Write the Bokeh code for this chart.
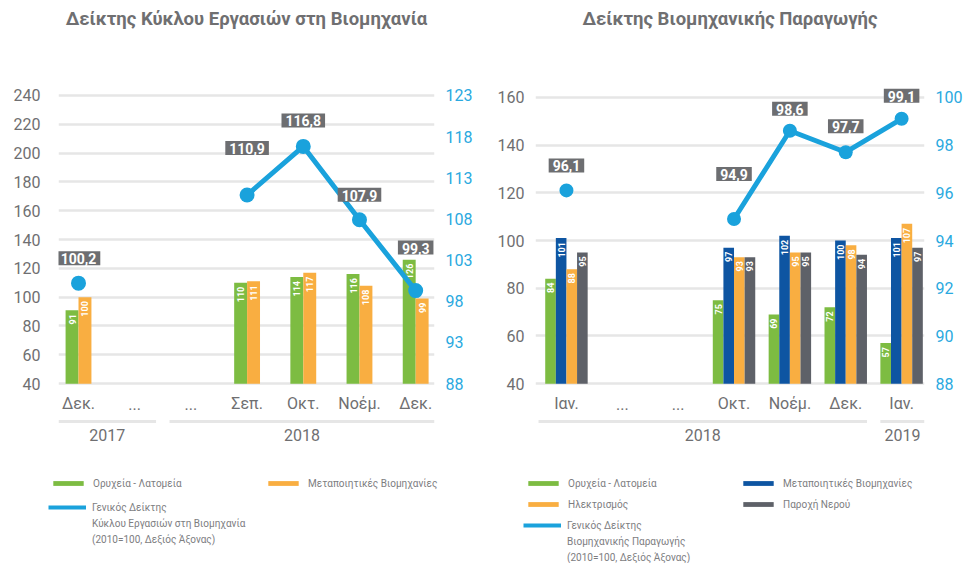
import math
from bokeh.plotting import figure
from bokeh.models import Range1d, LinearAxis, FixedTicker, ColumnDataSource, Legend, LegendItem
from bokeh.layouts import row, column
from bokeh.embed import file_html
from bokeh.resources import INLINE
from bokeh.core.properties import value

NaN = float("nan")

# ---------------- data: left chart ----------------
T1_TITLE = "Δείκτης Κύκλου Εργασιών στη Βιομηχανία"
T1_MONTHS = ["Δεκ.", "...", "...", "Σεπ.", "Οκτ.", "Νοέμ.", "Δεκ."]
T1_YEAR_OF = ["2017", "2017", "2018", "2018", "2018", "2018", "2018"]
T1_MINING = [91, NaN, NaN, 110, 114, 116, 126]
T1_MANUF = [100, NaN, NaN, 111, 117, 108, 99]
T1_INDEX = [100.2, NaN, NaN, 110.9, 116.8, 107.9, 99.3]
T1_LEFT_TICKS = [40, 60, 80, 100, 120, 140, 160, 180, 200, 220, 240]
T1_RIGHT_TICKS = [88, 93, 98, 103, 108, 113, 118, 123]
T1_NAMES = ["Ορυχεία - Λατομεία", "Μεταποιητικές Βιομηχανίες"]
T1_INDEX_NAME = ["Γενικός Δείκτης", "Κύκλου Εργασιών στη Βιομηχανία", "(2010=100, Δεξιός Άξονας)"]

# ---------------- data: right chart ----------------
T2_TITLE = "Δείκτης Βιομηχανικής Παραγωγής"
T2_MONTHS = ["Ιαν.", "...", "...", "Οκτ.", "Νοέμ.", "Δεκ.", "Ιαν."]
T2_YEAR_OF = ["2018", "2018", "2018", "2018", "2018", "2018", "2019"]
T2_MINING = [84, NaN, NaN, 75, 69, 72, 57]
T2_MANUF = [101, NaN, NaN, 97, 102, 100, 101]
T2_ELEC = [88, NaN, NaN, 93, 95, 98, 107]
T2_WATER = [95, NaN, NaN, 93, 95, 94, 97]
T2_INDEX = [96.1, NaN, NaN, 94.9, 98.6, 97.7, 99.1]
T2_LEFT_TICKS = [40, 60, 80, 100, 120, 140, 160]
T2_RIGHT_TICKS = [88, 90, 92, 94, 96, 98, 100]
T2_NAMES = ["Ορυχεία - Λατομεία", "Μεταποιητικές Βιομηχανίες", "Ηλεκτρισμός", "Παροχή Νερού"]
T2_INDEX_NAME = ["Γενικός Δείκτης", "Βιομηχανικής Παραγωγής", "(2010=100, Δεξιός Άξονας)"]

# ---------------- styles ----------------
GREEN = "#7dbc42"
ORANGE = "#f9ae41"
DBLUE = "#0e55a2"
GREY = "#5e6168"
LBLUE = "#1aa2dc"
TXT = "#6f6f71"
AXBLUE = "#2aa9e0"
BOX = "#6d6e71"
GRID = "#e6e6e6"
LEGTXT = "#7d7d7f"
FONT = "Roboto"

FT, FB = 33, 450  # main figure: frame top / bottom (px); figure height = FB
LEG_H = 113


def fmt(v):
    return f"{v:.1f}".replace(".", ",")


def make_chart(title, months, year_of, bars, index, left_ticks, right_ticks, st):
    lo, hi = left_ticks[0], left_ticks[-1]
    scale = (hi - lo) / (st["lo_px"] - st["hi_px"])
    y0 = lo - (FB - st["lo_px"]) * scale
    y1 = hi + (st["hi_px"] - FT) * scale
    rlo, rhi = right_ticks[0], right_ticks[-1]
    rscale = (rhi - rlo) / (st["lo_px"] - st["hi_px"])
    r0 = rlo - (FB - st["lo_px"]) * rscale
    r1 = rhi + (st["hi_px"] - FT) * rscale

    def y_at(px):
        return y0 + (FB - px) * scale

    p = figure(width=st["width"], height=FB, output_backend="svg", toolbar_location=None,
               x_range=Range1d(st["x0"], st["x1"]), y_range=Range1d(y0, y1),
               x_axis_location=None, min_border_left=st["bl"], min_border_right=st["br"],
               min_border_top=FT, min_border_bottom=0, outline_line_color=None,
               background_fill_color="white", border_fill_color="white")
    p.extra_y_ranges = {"right": Range1d(r0, r1)}

    p.title.text = title
    p.title.align = "center"
    p.title.text_font = FONT
    p.title.text_font_size = "18.5px"
    p.title.text_color = TXT
    p.title.text_font_style = "bold"

    ya = p.yaxis[0]
    ya.ticker = FixedTicker(ticks=left_ticks)
    ra = LinearAxis(y_range_name="right", ticker=FixedTicker(ticks=right_ticks))
    p.add_layout(ra, "right")
    for ax, col in ((ya, TXT), (ra, AXBLUE)):
        ax.axis_line_color = None
        ax.major_tick_line_color = None
        ax.minor_tick_line_color = None
        ax.major_tick_out = 0
        ax.major_tick_in = 0
        ax.minor_tick_out = 0
        ax.major_label_text_font = FONT
        ax.major_label_text_font_size = "16px"
        ax.major_label_text_color = col
    ya.major_label_standoff = st["lstand"]
    ra.major_label_standoff = st["rstand"]

    p.xgrid.visible = False
    p.ygrid.ticker = FixedTicker(ticks=left_ticks)
    p.ygrid.grid_line_color = GRID
    p.ygrid.grid_line_width = 2.5

    n = len(months)
    idx = list(range(n))
    bw = st["bw"]
    k = len(bars)
    for j, (vals, color) in enumerate(bars):
        off = (j - (k - 1) / 2) * bw
        xs = [i + off for i in idx if not math.isnan(vals[i])]
        ys = [vals[i] for i in idx if not math.isnan(vals[i])]
        src = ColumnDataSource(dict(x=xs, top=ys, lab=[str(int(v)) for v in ys]))
        p.vbar(x="x", top="top", bottom=lo, width=bw, source=src,
               fill_color=color, line_color=None)
        p.text(x="x", y="top", text="lab", source=src, angle=math.pi / 2,
               text_align="right", text_baseline="middle", y_offset=4,
               text_font=value(FONT), text_font_size="9px", text_font_style="bold",
               text_color="white")

    # index line (right axis)
    p.line(idx, index, y_range_name="right", line_color=LBLUE, line_width=5)
    p.scatter(idx, index, y_range_name="right", size=st["msize"], fill_color=LBLUE,
              line_color=None)
    ii = [i for i in idx if not math.isnan(index[i])]
    lsrc = ColumnDataSource(dict(x=ii, y=[index[i] for i in ii],
                                 t=[fmt(index[i]) for i in ii],
                                 dy=[-st["dy"][i] for i in ii]))
    p.text(x="x", y="y", text="t", y_offset="dy", source=lsrc, y_range_name="right",
           text_align="center", text_baseline="middle", text_font=value(FONT),
           text_font_size="14px", text_font_style="bold", text_color="white",
           background_fill_color=BOX, padding=dict(left=4, right=4, top=2, bottom=1))

    # month labels
    p.text(x=idx, y=[y_at(403)] * n, text=months, text_align="center",
           text_baseline="middle", text_font=value(FONT), text_font_size="16px",
           text_color=TXT)

    # year groups
    groups = []
    for i, y in enumerate(year_of):
        if groups and groups[-1][0] == y:
            groups[-1][2] = i
        else:
            groups.append([y, i, i])
    gx0, gx1, gxc, gt = [], [], [], []
    for g, (yr, a, b) in enumerate(groups):
        s = a - 0.5 + (0.12 if g > 0 else 0)
        e = b + 0.5 - (0.12 if g < len(groups) - 1 else 0)
        s = max(s, st["x0"])
        e = min(e, st["x1"])
        gx0.append(s)
        gx1.append(e)
        gxc.append((s + e) / 2)
        gt.append(yr)
    p.segment(x0=gx0, x1=gx1, y0=[y_at(421)] * len(gt), y1=[y_at(421)] * len(gt),
              line_color=GRID, line_width=3)
    p.text(x=gxc, y=[y_at(434)] * len(gt), text=gt, text_align="center",
           text_baseline="middle", text_font=value(FONT), text_font_size="16px",
           text_color=TXT)
    return p


def make_legend(bar_names, bar_colors, index_name, st):
    # legend-only panel: proxy renderers sit outside the visible range
    lf = figure(width=st["width"], height=LEG_H, output_backend="svg", toolbar_location=None,
                x_range=Range1d(0, 1), y_range=Range1d(0, 1), x_axis_location=None,
                y_axis_location=None, min_border=0, outline_line_color=None,
                background_fill_color="white", border_fill_color="white")
    lf.grid.visible = False
    far = dict(x=[5, 6], y=[5, 5])

    def add(label, rends, loc):
        leg = Legend(items=[LegendItem(label=label, renderers=rends)], location=loc,
                     glyph_width=38, glyph_height=6, label_text_font=FONT,
                     label_text_font_size="10px", label_text_color=LEGTXT,
                     label_standoff=6, padding=0, margin=0, spacing=0,
                     border_line_color=None, background_fill_alpha=0)
        lf.add_layout(leg)

    for name, color, loc in zip(bar_names, bar_colors, st["leg_loc"]):
        r = lf.vbar(x=far["x"][:1], top=far["y"][:1], width=0.1, fill_color=color,
                    line_color=None)
        add(name, [r], loc)
    lr = lf.line(x=far["x"], y=far["y"], line_color=LBLUE, line_width=4)
    rends = [lr]
    if st["legend_marker"]:
        rends.append(lf.scatter(x=far["x"][:1], y=far["y"][:1], size=9, fill_color=LBLUE,
                                line_color=None))
    add(index_name[0], rends, st["idx_loc"][0])
    ghost = lf.line(x=far["x"], y=far["y"], line_alpha=0)
    for name, loc in zip(index_name[1:], st["idx_loc"][1:]):
        add(name, [ghost], loc)
    return lf


ST1 = dict(width=480, bl=58, br=46, x0=-0.356, x1=6.335, lo_px=383, hi_px=94,
           bw=0.23, msize=15, dy=[25, 0, 0, 47, 26, 25, 43], lstand=18, rstand=11,
           legend_marker=False,
           leg_loc=[(49, 74.5), (264, 74.5)], idx_loc=[(48, 50.5), (48, 34.5), (48, 18.5)])
ST2 = dict(width=485, bl=55, br=40, x0=-0.554, x1=6.41, lo_px=383, hi_px=96,
           bw=0.19, msize=14, dy=[25, 0, 0, 45, 22, 26, 23], lstand=11, rstand=11,
           legend_marker=True,
           leg_loc=[(44, 74.5), (259, 74.5), (44, 53.5), (259, 53.5)],
           idx_loc=[(43, 32.5), (43, 16.5), (43, 0.5)])

p1 = make_chart(T1_TITLE, T1_MONTHS, T1_YEAR_OF,
                [(T1_MINING, GREEN), (T1_MANUF, ORANGE)], T1_INDEX,
                T1_LEFT_TICKS, T1_RIGHT_TICKS, ST1)
p2 = make_chart(T2_TITLE, T2_MONTHS, T2_YEAR_OF,
                [(T2_MINING, GREEN), (T2_MANUF, DBLUE), (T2_ELEC, ORANGE), (T2_WATER, GREY)],
                T2_INDEX, T2_LEFT_TICKS, T2_RIGHT_TICKS, ST2)
l1 = make_legend(T1_NAMES, [GREEN, ORANGE], T1_INDEX_NAME, ST1)
l2 = make_legend(T2_NAMES, [GREEN, DBLUE, ORANGE, GREY], T2_INDEX_NAME, ST2)

layout = column(row(p1, p2), row(l1, l2))
open("out.html", "w").write(file_html(layout, INLINE))
